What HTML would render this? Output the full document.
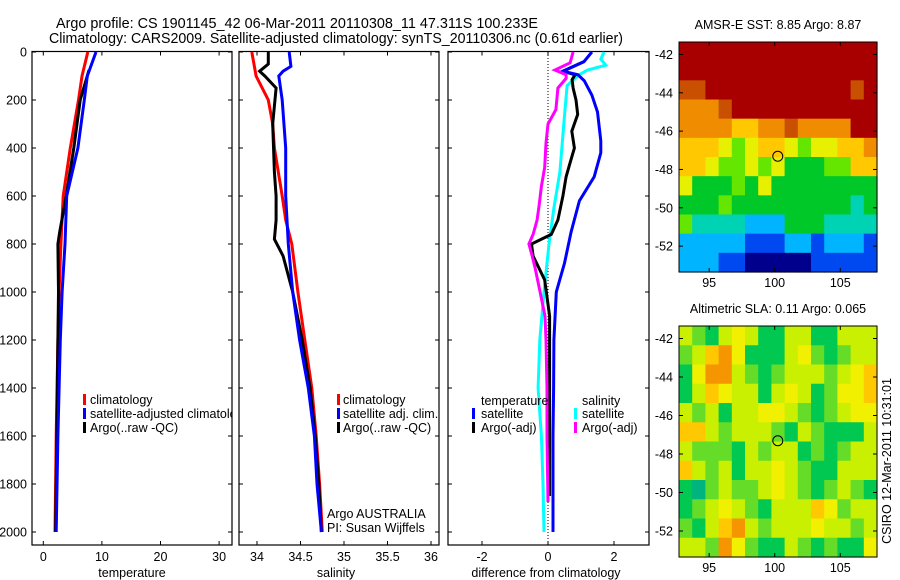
<!DOCTYPE html>
<html><head><meta charset="utf-8"><style>
html,body{margin:0;padding:0;background:#fff;}
svg{display:block;font-family:"Liberation Sans",sans-serif;}
text{font-size:12.5px;fill:#000;}
</style></head><body>
<svg id="fig" width="900" height="580" viewBox="0 0 900 580" xmlns="http://www.w3.org/2000/svg">
<defs>
<clipPath id="c1"><rect x="32" y="51" width="200" height="494"/></clipPath>
<clipPath id="c2"><rect x="239" y="51" width="200" height="494"/></clipPath>
<clipPath id="c3"><rect x="448" y="51" width="201" height="494"/></clipPath>
</defs>
<text x="56" y="28" textLength="482" lengthAdjust="spacingAndGlyphs" style="font-size:15px">Argo profile: CS 1901145_42 06-Mar-2011 20110308_11 47.311S 100.233E</text>
<text x="49" y="43" textLength="574" lengthAdjust="spacingAndGlyphs" style="font-size:15px">Climatology: CARS2009. Satellite-adjusted climatology: synTS_20110306.nc (0.61d earlier)</text>
<g id="layer"></g>
</svg>
<script>
// ---- data ----
const depthTicks=[0,200,400,600,800,1000,1200,1400,1600,1800,2000];
const tempTicks=[0,10,20,30];
const salTicks=[34,34.5,35,35.5,36];
const salTickLabels=["34","34.5","35","35.5","36"];
const diffTicks=[-2,0,2];
const lonTicks=[95,100,105];
const latTicks=[-42,-44,-46,-48,-50,-52];

const tDepth=[0,100,200,400,600,800,1000,1200,1600,2000];
const tClim=[7.6,6.6,6.0,4.6,3.4,3.0,2.7,2.5,2.2,2.0];
const tSat=[9.0,7.5,7.0,5.9,4.0,3.7,3.2,2.9,2.5,2.2];
const tArgoDepth=[75,200,400,600,750,800,1000,1200,1600,2000];
const tArgo=[7.8,6.3,5.2,3.9,2.8,2.5,2.6,2.5,2.3,2.1];

const sDepth=[0,100,200,300,400,600,700,800,1000,1200,1400,1600,1800,2000];
const sClim=[33.94,33.99,34.13,34.18,34.2,34.29,34.33,34.4,34.47,34.55,34.63,34.68,34.72,34.75];
const sSatDepth=[0,60,80,100,200,400,600,800,1000,1200,1400,1600,1800,2000];
const sSat=[34.37,34.39,34.3,34.25,34.29,34.33,34.33,34.36,34.41,34.49,34.59,34.66,34.69,34.74];
const sArgoDepth=[0,50,80,100,150,300,500,600,700,780,850,1000,1200,1400,1600,1800,2000];
const sArgo=[34.13,34.13,34.03,34.09,34.22,34.18,34.2,34.22,34.22,34.2,34.3,34.41,34.52,34.61,34.67,34.71,34.74];

const dTSatDepth=[0,40,80,95,120,180,250,370,420,520,620,750,880,1000,1200,1400,1600,1800,2000];
const dTSat=[1.33,1.09,0.45,0.91,1.1,1.33,1.5,1.6,1.6,1.4,0.95,0.7,0.5,0.25,0.18,0.17,0.15,0.15,0.15];
const dTArgoDepth=[40,80,95,115,150,200,260,330,400,470,520,600,700,760,800,850,950,1100,1300,1500,1700,1850];
const dTArgo=[1.09,0.45,0.82,0.73,0.76,0.85,0.9,0.72,0.8,0.65,0.55,0.45,0.3,0.1,-0.5,-0.45,-0.1,0.05,0.05,0.05,0.05,0.05];
const dSSatDepth=[0,30,55,75,95,140,300,500,650,800,1000,1200,1400,1600,1800,2000];
const dSSat=[1.7,1.6,1.75,1.2,0.94,0.58,0.48,0.36,0.18,0.03,-0.12,-0.25,-0.3,-0.2,-0.15,-0.12];
const dSArgoDepth=[0,45,75,95,110,150,240,300,380,480,560,640,700,760,800,850,900,1000,1100,1200,1400,1600,1875];
const dSArgo=[0.76,0.67,0.21,0.55,0.55,0.3,0.24,0,-0.06,-0.1,-0.2,-0.27,-0.33,-0.45,-0.58,-0.48,-0.39,-0.24,-0.09,-0.06,-0.03,-0.03,0];

const sstGrid=[
[10,10,10,10,10,10,10,10,10,10,10,10,10,10,10],
[10,10,10,10,10,10,10,10,10,10,10,10,10,10,10],
[9,9,10,10,10,10,10,10,10,10,10,10,10,9,10],
[8,8,8,9,10,10,10,10,10,10,10,10,10,10,10],
[8,8,8,8,7,7,8,8,9,8,8,8,8,10,10],
[7,7,7,6,5,6,7,7,6,5,6,6,7,7,8],
[7,7,6,5,5,6,5,6,4,4,4,5,5,7,7],
[6,4,4,4,5,4,6,4,4,4,4,4,4,4,4],
[4,4,4,5,4,4,4,4,4,4,4,4,4,3,4],
[5,3,3,3,3,2,2,2,4,4,4,3,3,3,3],
[2,2,2,2,2,1,1,1,2,2,1,2,2,2,1],
[2,2,2,1,1,0,0,0,0,0,1,1,1,1,1]];
const slaGrid=[
[3,2,1,3,4,3,1,1,3,3,1,1,3,3,3],
[2,3,5,6,4,1,1,1,3,4,2,1,2,3,3],
[1,4,6,6,3,2,1,2,3,3,3,2,3,4,5],
[1,3,5,4,3,3,1,3,4,3,1,2,4,4,5],
[3,2,3,1,3,3,4,4,3,2,1,2,3,4,4],
[5,5,3,2,3,3,3,2,1,3,2,1,1,1,3],
[3,2,2,2,1,3,2,3,3,1,2,1,2,3,3],
[5,3,2,3,1,3,3,4,3,2,1,1,3,3,3],
[1,0,2,3,2,2,3,4,3,2,1,2,3,2,1],
[1,2,3,4,3,2,1,3,3,3,5,4,2,3,3],
[2,1,3,5,6,3,2,3,3,3,4,3,3,2,3],
[3,3,2,6,4,2,1,1,3,2,1,2,1,1,4]];
const argoLon=100.233, argoLat=-47.311;

// ---- helpers ----
const NS="http://www.w3.org/2000/svg";
const L=document.getElementById('layer');
function mk(tag,at,parent){const e=document.createElementNS(NS,tag);for(const k in at)e.setAttribute(k,at[k]);(parent||L).appendChild(e);return e;}
const yD=d=>52+d*0.24;
const xT=v=>43.3+v*5.86;
const xS=v=>257+(v-34)*87;
const xDf=v=>548+v*33;

function axesBox(x0,x1,name){
  const r=mk('rect',{x:x0,y:51.5,width:x1-x0,height:493.5,fill:'none',stroke:'#000','stroke-width':1.2});
  
  
}
function yTicks(x0,x1,labels){
  depthTicks.forEach(d=>{
    const y=yD(d);
    mk('line',{x1:x0,y1:y,x2:x0+4,y2:y,stroke:'#000'});
    mk('line',{x1:x1,y1:y,x2:x1-4,y2:y,stroke:'#000'});
    if(labels){const t=mk('text',{x:27,y:y+4.5,'text-anchor':'end'});t.textContent=d;
      
      }
  });
}
function xTicks(vals,labs,fx,name){
  vals.forEach((v,i)=>{
    const x=fx(v);
    mk('line',{x1:x,y1:545,x2:x,y2:541,stroke:'#000'});
    mk('line',{x1:x,y1:51.5,x2:x,y2:55.5,stroke:'#000'});
    const t=mk('text',{x:x,y:561,'text-anchor':'middle'});t.textContent=labs[i];
    
    
  });
}
function line(depths,vals,fx,color,clip,name,w){
  const pts=depths.map((d,i)=>fx(vals[i]).toFixed(1)+','+yD(d).toFixed(1)).join(' ');
  const p=mk('polyline',{points:pts,fill:'none',stroke:color,'stroke-width':w||3,'clip-path':'url(#'+clip+')','stroke-linejoin':'miter'});
  
  
}
function txt(x,y,s,name,anchor){const t=mk('text',{x:x,y:y,'text-anchor':anchor||'start'});t.textContent=s;
  
  return t;}
function legendMark(x,y,color){mk('rect',{x:x,y:y-10,width:3,height:11,fill:color});}

// ---- panel 1: temperature ----
axesBox(32,232,'temperature-axes');
yTicks(32,232,true);
xTicks(tempTicks,tempTicks.map(String),xT,'temperature-tick-label');
line(tDepth,tClim,xT,'#ff0000','c1','temp-climatology-line');
line(tArgoDepth,tArgo,xT,'#000000','c1','temp-argo-line');
line(tDepth,tSat,xT,'#0000ff','c1','temp-satellite-line');
txt(132,577,'temperature','temperature-axis-title','middle');
const lg1=mk('g',{'clip-path':'url(#c1)'});
[['climatology','#ff0000'],['satellite-adjusted climatology','#0000ff'],['Argo(..raw -QC)','#000']].forEach((e,i)=>{
  const y=404+i*14; legendMark(83,y,e[1]);
  const t=mk('text',{x:90,y:y},lg1);t.textContent=e[0];
  
  
});

// ---- panel 2: salinity ----
axesBox(239,439,'salinity-axes');
yTicks(239,439,false);
xTicks(salTicks,salTickLabels,xS,'salinity-tick-label');
line(sDepth,sClim,xS,'#ff0000','c2','sal-climatology-line');
line(sArgoDepth,sArgo,xS,'#000000','c2','sal-argo-line');
line(sSatDepth,sSat,xS,'#0000ff','c2','sal-satellite-line');
txt(336,577,'salinity','salinity-axis-title','middle');
[['climatology','#ff0000'],['satellite adj. clim.','#0000ff'],['Argo(..raw -QC)','#000']].forEach((e,i)=>{
  const y=404+i*14; legendMark(337,y,e[1]); txt(343,y,e[0],'salinity-legend-entry');
});
txt(327,518,'Argo AUSTRALIA','argo-australia-label');
txt(327,532,'PI: Susan Wijffels','pi-label');

// ---- panel 3: difference ----
axesBox(448,649,'difference-axes');
yTicks(448,649,false);
xTicks(diffTicks,diffTicks.map(String),xDf,'difference-tick-label');
mk('line',{x1:xDf(0),y1:52,x2:xDf(0),y2:545,stroke:'#000','stroke-dasharray':'1,2'});
line(dSSatDepth,dSSat,xDf,'#00ffff','c3','diff-sal-satellite-line');
line(dTArgoDepth,dTArgo,xDf,'#000000','c3','diff-temp-argo-line');
line(dTSatDepth,dTSat,xDf,'#0000ff','c3','diff-temp-satellite-line');
line(dSArgoDepth,dSArgo,xDf,'#ff00ff','c3','diff-sal-argo-line');
txt(546,577,'difference from climatology','difference-axis-title','middle');
txt(481,405,'temperature','legend-temperature-header');
txt(582,405,'salinity','legend-salinity-header');
legendMark(472,418,'#0000ff');txt(481,418,'satellite','legend-temp-satellite');
legendMark(472,432,'#000');txt(481,432,'Argo(-adj)','legend-temp-argo');
legendMark(574,418,'#00ffff');txt(582,418,'satellite','legend-sal-satellite');
legendMark(574,432,'#ff00ff');txt(582,432,'Argo(-adj)','legend-sal-argo');

// ---- maps ----
const sstColors=['#00008c','#0048f0','#00b4ff','#00d2b4','#00c828','#64e600','#e6f000','#ffc800','#f08c00','#c85000','#a80000'];
const slaColors=['#00b480','#00c850','#64dc28','#c8f000','#f0f000','#ffc800','#f59600'];
const mx0=679,mx1=877,lon0=92.7,lon1=107.8;
const mxF=v=>mx0+(v-lon0)*(mx1-mx0)/(lon1-lon0);
function drawMap(y0,y1,latTop,grid,colors,name,title){
  const myF=v=>y0+(latTop-v)*((y1-y0)/12);
  const g=mk('g',{});
  
  
  const cw=(mx1-mx0)/15,ch=(y1-y0)/12;
  grid.forEach((row,r)=>row.forEach((v,c)=>{
    mk('rect',{x:(mx0+c*cw).toFixed(2),y:(y0+r*ch).toFixed(2),width:(cw+0.6).toFixed(2),height:(ch+0.6).toFixed(2),fill:colors[v]},g);
  }));
  mk('rect',{x:mx0,y:y0,width:mx1-mx0,height:y1-y0,fill:'none',stroke:'#000','stroke-width':1});
  lonTicks.forEach(v=>{const x=mxF(v);
    mk('line',{x1:x,y1:y0,x2:x,y2:y0+4,stroke:'#000'});mk('line',{x1:x,y1:y1,x2:x,y2:y1-4,stroke:'#000'});
    txt(x,y1+15,String(v),'longitude-tick-label','middle');});
  latTicks.forEach(v=>{const y=myF(v);
    mk('line',{x1:mx0,y1:y,x2:mx0+4,y2:y,stroke:'#000'});mk('line',{x1:mx1,y1:y,x2:mx1-4,y2:y,stroke:'#000'});
    txt(673,y+4.5,String(v),'latitude-tick-label','end');});
  const c=mk('circle',{cx:mxF(argoLon),cy:myF(argoLat),r:5,fill:'none',stroke:'#000','stroke-width':1});
  
  
  txt(778,y0-13,title,name+'-title','middle');
}
drawMap(42,272,-41.35,sstGrid,sstColors,'sst-map','AMSR-E SST: 8.85  Argo: 8.87');
drawMap(326,557,-41.35,slaGrid,slaColors,'sla-map','Altimetric SLA: 0.11  Argo: 0.065');
const rt=txt(0,0,'CSIRO 12-Mar-2011 10:31:01','csiro-timestamp','middle');
rt.setAttribute('transform','translate(891,461) rotate(-90)');
</script>
</body></html>
